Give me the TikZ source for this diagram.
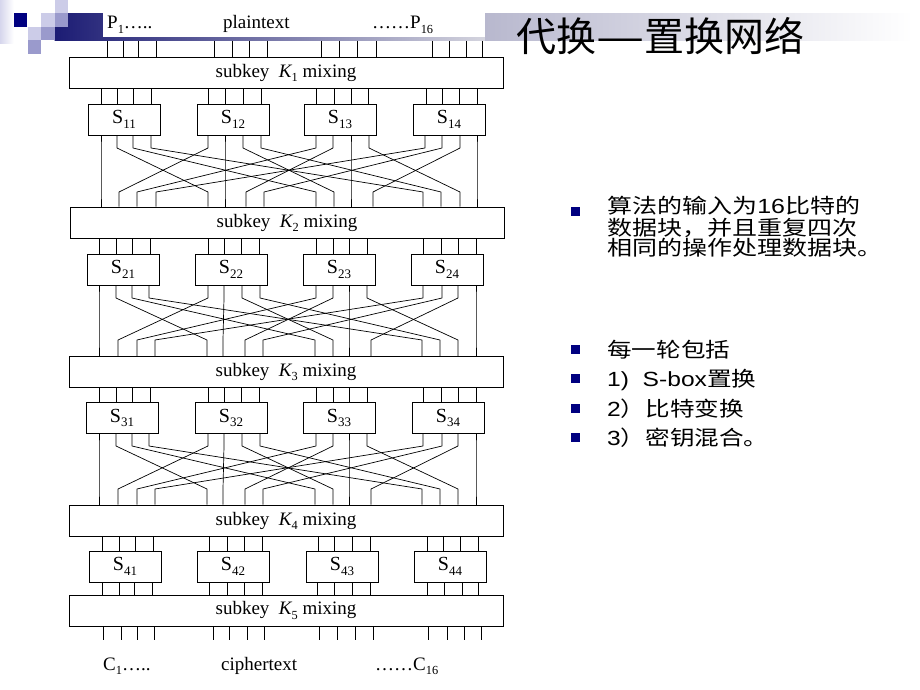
\documentclass[tikz,border=0pt]{standalone}
\usepackage{graphicx}
\usepackage{fontspec}
\setmainfont{Liberation Serif}
\newfontfamily\cjk{Noto Sans CJK SC}
\newfontfamily\arialf{Liberation Sans}
\definecolor{navy}{HTML}{000080}
\definecolor{barnavy}{HTML}{1C1C74}
\definecolor{barend}{HTML}{D4D4DE}
\definecolor{lav}{HTML}{CCCCE8}
\definecolor{mlav}{HTML}{9A9ACC}
\definecolor{ttlbar}{HTML}{B8B8CE}
\newcommand\sbs[1]{\raisebox{-0.22em}{\scalebox{0.65}{#1}}}
\newcommand\wide[1]{\scalebox{1.2}[1]{#1}}
\newcommand\mkperm[6]{%
  \foreach \i in {0,...,3}{\foreach \j in {0,...,3}{%
    \pgfmathsetmacro\xout{#1[4*\i+\j]}%
    \pgfmathsetmacro\xin{#2[4*\j+\i]}%
    \draw[wire] (\xout,0 |- #3.south) -- (\xout,#4) -- (\xin,#5) -- (\xin,0 |- #6.north);
  }}}
\newcommand\mkgap[3]{%
  \foreach \x in {#1}{\draw[wire] (\x,0 |- #2) -- (\x,0 |- #3);}}
\tikzset{
  kbox/.style={draw, line width=0.9pt, minimum width=434pt, minimum height=31pt, inner sep=0pt, fill=white,
    font=\fontsize{19}{19}\selectfont},
  sbox/.style={draw, line width=0.9pt, minimum width=72pt, minimum height=31pt, inner sep=0pt, fill=white,
    font=\fontsize{20}{20}\selectfont},
  wire/.style={line width=0.7pt, line join=round},
  lab/.style={anchor=base west, inner sep=0pt, font=\fontsize{19}{19}\selectfont},
  bul/.style={fill=navy, minimum size=9pt, inner sep=0pt},
  ctext/.style={anchor=base west, inner sep=0pt, font=\cjk\fontsize{20.5}{20.5}\selectfont},
}
\begin{document}
\begin{tikzpicture}[x=1pt,y=-1pt]
\useasboundingbox (0,0) rectangle (920,690);
% ---- decoration ----
\shade[left color=lav!80, right color=white] (0,0) rectangle (13.5,44);
\shade[left color=barnavy, right color=barend] (54.5,13.5) rectangle (485,41);
\shade[left color=ttlbar, right color=white] (485,13.5) rectangle (912,41);
\fill[navy] (13.5,13.5) rectangle ++(13.5,13.5);
\fill[lav] (41,13.5) rectangle ++(13.5,13.5);
\fill[mlav] (54.5,13.5) rectangle ++(13.5,13.5);
\fill[lav] (54.5,0) rectangle ++(13.5,13.5);
\fill[lav] (27.5,27) rectangle ++(13.5,13.5);
\fill[mlav] (41,27) rectangle ++(13.5,13.5);
\fill[mlav] (27.5,40.5) rectangle ++(13.5,13.5);
\fill[white] (103,0) rectangle (485,37);
\node[anchor=west, inner sep=0pt, font=\cjk\fontsize{40}{40}\selectfont] (title) at (516,36) {代换\scalebox{1.35}[1]{—}置换网络};
% ---- labels ----
\node[lab] (p1) at (107,29) {P\sbs{1}…..};
\node[lab] (pt) at (223,29) {plaintext};
\node[lab] (p16) at (372,29) {……P\sbs{16}};
\coordinate (topw) at (0,41);
\coordinate (botw) at (0,640);
\node[lab] (c1) at (103,670) {C\sbs{1}…..};
\node[lab] (ct) at (221,670) {ciphertext};
\node[lab] (c16) at (375,670) {……C\sbs{16}};
% ---- key boxes ----
\node[kbox] (K1) at (286,72.5) {subkey \ {\itshape K}\sbs{1} mixing};
\node[kbox] (K2) at (287,222.5) {subkey \ {\itshape K}\sbs{2} mixing};
\node[kbox] (K3) at (286,372) {subkey \ {\itshape K}\sbs{3} mixing};
\node[kbox] (K4) at (286,520.5) {subkey \ {\itshape K}\sbs{4} mixing};
\node[kbox] (K5) at (286,610.5) {subkey \ {\itshape K}\sbs{5} mixing};
% ---- S boxes ----
\foreach \n/\x in {11/124,12/233,13/340,14/449}{\node[sbox] (S\n) at (\x,119.5) {S\sbs{\n}};}
\foreach \n/\x in {21/123,22/231,23/339,24/447}{\node[sbox] (S\n) at (\x,269.5) {S\sbs{\n}};}
\foreach \n/\x in {31/122,32/231,33/339,34/448}{\node[sbox] (S\n) at (\x,418) {S\sbs{\n}};}
\foreach \n/\x in {41/125,42/233,43/342,44/450}{\node[sbox] (S\n) at (\x,566.5) {S\sbs{\n}};}
% ---- straight wires ----
\mkgap{107,123,138,156,214,232,249,267,321,339,357,376,432,449,466,482}{topw}{K1.north}
\mkgap{101,117,133,151,208,225,243,261,316,334,351,368,426,442,459,477}{K1.south}{S11.north}
\mkgap{99,116,132,150,208,224,241,259,316,333,349,367,423,441,458,476}{K2.south}{S21.north}
\mkgap{99,116,132,150,208,224,241,259,316,333,349,367,423,441,458,476}{K3.south}{S31.north}
\mkgap{102,119,135,153,209,227,244,262,318,334,352,370,427,443,460,478}{K4.south}{S41.north}
\mkgap{102,119,134,152,209,227,244,262,317,334,352,370,427,444,462,478}{S41.south}{K5.north}
\mkgap{103,121,137,154,213,229,247,264,319,337,355,373,428,447,464,481}{K5.south}{botw}
% ---- permutations ----
\def\oA{{101,117,133,151,208,225,243,261,316,333,351,369,425,442,460,477}}
\def\iA{{101,119,137,156,208,225,246,264,316,334,351,373,423,441,460,477}}
\def\oB{{99,116,132,149,208,224,242,260,316,333,349,367,423,442,458,476}}
\def\iB{{99,118,137,155,207,223,245,263,315,333,349,371,422,440,458,476}}
\mkperm{\oA}{\iA}{S11}{148}{192}{K2}
\mkperm{\oB}{\iB}{S21}{298}{340}{K3}
\mkperm{\oB}{\iB}{S31}{446}{489}{K4}
% ---- bullets ----
\node[bul] (b1) at (575.5,211) {};
\node[ctext] (t1) at (607,213.5) {\scalebox{1.22}[1]{算法的输入为{\arialf 16}比特的}};
\node[ctext] (t2) at (607,235) {\scalebox{1.22}[1]{数据块，并且重复四次}};
\node[ctext] (t3) at (607,255.5) {\scalebox{1.22}[1]{相同的操作处理数据块。}};
\node[bul] (b2) at (575.5,349) {};
\node[ctext] (u1) at (607,357) {\wide{每一轮包括}};
\node[bul] (b3) at (575.5,378.5) {};
\node[ctext] (u2) at (607,386.5) {\wide{{\arialf 1)\ \ S-box}置换}};
\node[bul] (b4) at (575.5,408) {};
\node[ctext] (u3) at (607,416) {\wide{{\arialf 2}）比特变换}};
\node[bul] (b5) at (575.5,437.5) {};
\node[ctext] (u4) at (607,445.5) {\wide{{\arialf 3}）密钥混合。}};
\end{tikzpicture}
\end{document}
